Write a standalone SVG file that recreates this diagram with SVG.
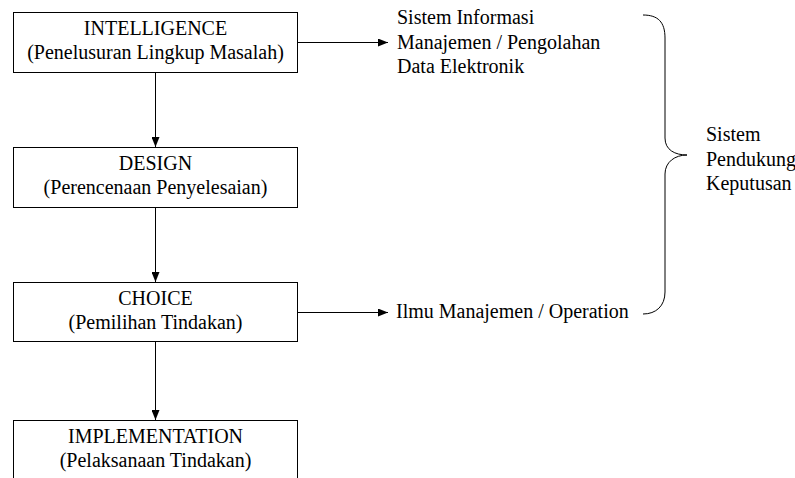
<svg xmlns="http://www.w3.org/2000/svg" width="795" height="478" viewBox="0 0 795 478">
<style>
.box{fill:#fff;stroke:#000;stroke-width:1}
.t{font-family:"Liberation Serif","Times New Roman",serif;font-size:20px;fill:#000}
.c{text-anchor:middle}
.ln{stroke:#000;stroke-width:1;fill:none}
</style>
<defs>
<marker id="ah" markerWidth="10" markerHeight="8" refX="10" refY="4" orient="auto" markerUnits="userSpaceOnUse">
<path d="M0,0 L10,4 L0,8 Z" fill="#000"/>
</marker>
</defs>
<rect width="795" height="478" fill="#fff"/>
<g id="connectors">
<line class="ln" x1="155.5" y1="72.5" x2="155.5" y2="147" marker-end="url(#ah)"/>
<line class="ln" x1="155.5" y1="207.5" x2="155.5" y2="282" marker-end="url(#ah)"/>
<line class="ln" x1="155.5" y1="341.5" x2="155.5" y2="420" marker-end="url(#ah)"/>
<line class="ln" x1="298" y1="42.5" x2="388" y2="42.5" marker-end="url(#ah)"/>
<line class="ln" x1="298" y1="312.5" x2="388" y2="312.5" marker-end="url(#ah)"/>
</g>
<g id="intelligence">
<rect class="box" x="13.5" y="12.5" width="284" height="60"/>
<text class="t c" x="155.5" y="35">INTELLIGENCE</text>
<text class="t c" x="155.5" y="59">(Penelusuran Lingkup Masalah)</text>
</g>
<g id="design">
<rect class="box" x="13.5" y="147.5" width="284" height="60"/>
<text class="t c" x="155.5" y="170">DESIGN</text>
<text class="t c" x="155.5" y="194">(Perencenaan Penyelesaian)</text>
</g>
<g id="choice">
<rect class="box" x="13.5" y="282.5" width="284" height="59"/>
<text class="t c" x="155.5" y="305">CHOICE</text>
<text class="t c" x="155.5" y="329">(Pemilihan Tindakan)</text>
</g>
<g id="implementation">
<rect class="box" x="13.5" y="420.5" width="284" height="70"/>
<text class="t c" x="155.5" y="443">IMPLEMENTATION</text>
<text class="t c" x="155.5" y="467">(Pelaksanaan Tindakan)</text>
</g>
<g id="sim">
<text class="t" x="397" y="24">Sistem Informasi</text>
<text class="t" x="397" y="49">Manajemen / Pengolahan</text>
<text class="t" x="397" y="73">Data Elektronik</text>
</g>
<g id="ilmu">
<text class="t" x="396" y="318">Ilmu Manajemen / Operation</text>
</g>
<g id="brace">
<path class="ln" d="M643,15 C658,15 665,22 665,38 L665,138 C665,150 675,155 687,155 C675,155 665,162 665,174 L665,292 C665,306 656,314 643,314"/>
</g>
<g id="spk">
<text class="t" x="706" y="141">Sistem</text>
<text class="t" x="706" y="166">Pendukung</text>
<text class="t" x="706" y="190">Keputusan</text>
</g>
</svg>
